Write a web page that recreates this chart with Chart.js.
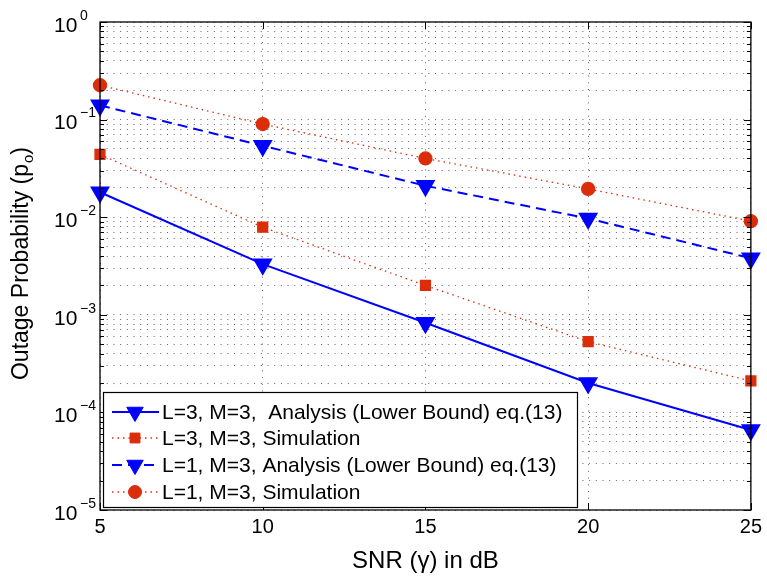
<!DOCTYPE html>
<html>
<head>
<meta charset="utf-8">
<script src="https://cdn.jsdelivr.net/npm/chart.js@4"></script>
<style>
  html, body { margin: 0; padding: 0; background: #fff; }
  #wrap { width: 767px; height: 580px; }
</style>
</head>
<body>
<div id="wrap"><canvas id="chart" width="767" height="580"></canvas></div>
<script>
// SNR values in dB
const snr = [5, 10, 15, 20, 25];

// outage probability
const l3Analysis = [0.018, 0.0033, 0.00083, 0.0002, 0.000066];
const l3Simulation = [0.044, 0.0079, 0.002, 0.00053, 0.00021];
const l1Analysis = [0.14, 0.054, 0.021, 0.0097, 0.0038];
const l1Simulation = [0.225, 0.09, 0.04, 0.0195, 0.0091];

const xTicks = [5, 10, 15, 20, 25];
const yExponents = [0, -1, -2, -3, -4, -5];

const legendLabels = [
  'L=3, M=3,  Analysis (Lower Bound) eq.(13)',
  'L=3, M=3, Simulation',
  'L=1, M=3, Analysis (Lower Bound) eq.(13)',
  'L=1, M=3, Simulation'
];

const BLUE = '#0000ff';
const RED = '#dc2d0a';
const FONT = '"Liberation Sans", Arial, sans-serif';

const toPoints = (ys) => snr.map((x, i) => ({ x, y: ys[i] }));

// every log tick 1..9 x 10^n between 1e-5 and 1
const logTicks = [];
for (let e = -5; e < 0; e++) {
  for (let m = 1; m < 10; m++) logTicks.push(m * Math.pow(10, e));
}
logTicks.push(1);

const framePlugin = {
  id: 'frame',
  afterDatasetsDraw(chart) {
    const { ctx, chartArea: a, scales } = chart;
    const xs = scales.x, ys = scales.y;
    ctx.save();

    // axes box
    ctx.strokeStyle = '#000';
    ctx.lineWidth = 1.3;
    ctx.strokeRect(a.left, a.top, a.right - a.left, a.bottom - a.top);

    // inward ticks
    ctx.lineWidth = 1;
    ctx.beginPath();
    logTicks.forEach(v => {
      const y = Math.round(ys.getPixelForValue(v)) + 0.5;
      const major = Math.abs(Math.log10(v) - Math.round(Math.log10(v))) < 1e-9;
      const len = major ? 7 : 4;
      ctx.moveTo(a.left, y); ctx.lineTo(a.left + len, y);
      ctx.moveTo(a.right, y); ctx.lineTo(a.right - len, y);
    });
    xTicks.forEach(v => {
      const x = Math.round(xs.getPixelForValue(v)) + 0.5;
      ctx.moveTo(x, a.bottom); ctx.lineTo(x, a.bottom - 7);
      ctx.moveTo(x, a.top); ctx.lineTo(x, a.top + 7);
    });
    ctx.stroke();

    // y tick labels 10^n
    ctx.fillStyle = '#000';
    ctx.textBaseline = 'middle';
    ctx.textAlign = 'left';
    yExponents.forEach(e => {
      const y = ys.getPixelForValue(Math.pow(10, e));
      ctx.font = '21px ' + FONT;
      ctx.fillText('10', 54, y + 4);
      ctx.font = '14px ' + FONT;
      ctx.fillText(e === 0 ? '0' : '\u2212' + (-e), 80, y - 6);
    });

    // y axis title with subscript
    ctx.save();
    ctx.translate(22, 264);
    ctx.rotate(-Math.PI / 2);
    ctx.textBaseline = 'middle';
    ctx.font = '23px ' + FONT;
    const main = 'Outage Probability (p';
    const wMain = ctx.measureText(main).width;
    ctx.font = '15px ' + FONT;
    const wSub = ctx.measureText('o').width;
    ctx.font = '23px ' + FONT;
    const x0 = -(wMain + wSub + ctx.measureText(')').width) / 2;
    ctx.fillText(main, x0, 0);
    ctx.font = '15px ' + FONT;
    ctx.fillText('o', x0 + wMain + 1, 7);
    ctx.font = '23px ' + FONT;
    ctx.fillText(')', x0 + wMain + wSub + 1, 0);
    ctx.restore();

    // legend box
    const bx = 103, by = 392, bw = 474, bh = 115;
    ctx.fillStyle = '#fff';
    ctx.fillRect(bx, by, bw, bh);
    ctx.strokeStyle = '#000';
    ctx.lineWidth = 1.2;
    ctx.strokeRect(bx + 0.5, by + 0.5, bw, bh);
    const rows = [412, 438, 465, 492];
    chart.data.datasets.forEach((ds, i) => {
      const y = rows[i];
      ctx.save();
      ctx.strokeStyle = ds.borderColor;
      ctx.lineWidth = ds.borderWidth;
      ctx.setLineDash(ds.borderDash || []);
      ctx.beginPath();
      ctx.moveTo(112, y); ctx.lineTo(159, y);
      ctx.stroke();
      ctx.setLineDash([]);
      ctx.fillStyle = ds.pointBackgroundColor;
      ctx.strokeStyle = ds.pointBackgroundColor;
      ctx.lineWidth = 1;
      Chart.helpers.drawPoint(ctx, {
        pointStyle: ds.pointStyle,
        rotation: ds.pointRotation || 0,
        radius: ds.pointRadius,
        borderWidth: 1
      }, 135, y);
      ctx.restore();
      ctx.fillStyle = '#000';
      ctx.font = '21px ' + FONT;
      ctx.textBaseline = 'middle';
      ctx.textAlign = 'left';
      ctx.fillText(legendLabels[i], 162, y + 1);
    });

    ctx.restore();
  }
};

const grid = {
  color: '#666',
  lineWidth: 1,
  drawTicks: false
};
// in v4 the grid line dash lives under border
const gridBorder = { display: false, dash: [1, 5.7] };

new Chart(document.getElementById('chart'), {
  type: 'line',
  data: {
    datasets: [
      {
        label: legendLabels[0],
        data: toPoints(l3Analysis),
        borderColor: BLUE,
        borderWidth: 2,
        pointStyle: 'triangle',
        pointRotation: 180,
        pointRadius: 9.5,
        pointBackgroundColor: BLUE,
        pointBorderColor: BLUE,
        clip: false
      },
      {
        label: legendLabels[1],
        data: toPoints(l3Simulation),
        borderColor: RED,
        borderWidth: 1.3,
        borderDash: [1.5, 4],
        pointStyle: 'rect',
        pointRadius: 7,
        pointBackgroundColor: RED,
        pointBorderColor: RED,
        clip: false
      },
      {
        label: legendLabels[2],
        data: toPoints(l1Analysis),
        borderColor: BLUE,
        borderWidth: 2,
        borderDash: [10, 6],
        pointStyle: 'triangle',
        pointRotation: 180,
        pointRadius: 9.5,
        pointBackgroundColor: BLUE,
        pointBorderColor: BLUE,
        clip: false
      },
      {
        label: legendLabels[3],
        data: toPoints(l1Simulation),
        borderColor: RED,
        borderWidth: 1.3,
        borderDash: [1.5, 4],
        pointStyle: 'circle',
        pointRadius: 6.5,
        pointBackgroundColor: RED,
        pointBorderColor: RED,
        clip: false
      }
    ]
  },
  options: {
    responsive: false,
    animation: false,
    events: [],
    layout: { padding: { top: 22, right: 14, left: 0, bottom: 0 } },
    plugins: {
      legend: { display: false },
      tooltip: { enabled: false }
    },
    scales: {
      x: {
        type: 'linear',
        min: 5,
        max: 25,
        afterBuildTicks(scale) {
          scale.ticks = xTicks.map(v => ({ value: v }));
        },
        afterFit(scale) { scale.height = 70; },
        grid: grid,
        border: gridBorder,
        ticks: {
          color: '#000',
          font: { family: FONT, size: 20 },
          padding: 5
        },
        title: {
          display: true,
          text: 'SNR (\u03b3) in dB',
          color: '#000',
          font: { family: FONT, size: 24 },
          padding: { top: 2 }
        }
      },
      y: {
        type: 'logarithmic',
        min: 1e-5,
        max: 1,
        afterBuildTicks(scale) {
          scale.ticks = logTicks.map(v => ({ value: v }));
        },
        afterFit(scale) { scale.width = 100; },
        grid: grid,
        border: gridBorder,
        ticks: { display: false }
      }
    }
  },
  plugins: [framePlugin]
});
</script>
</body>
</html>
